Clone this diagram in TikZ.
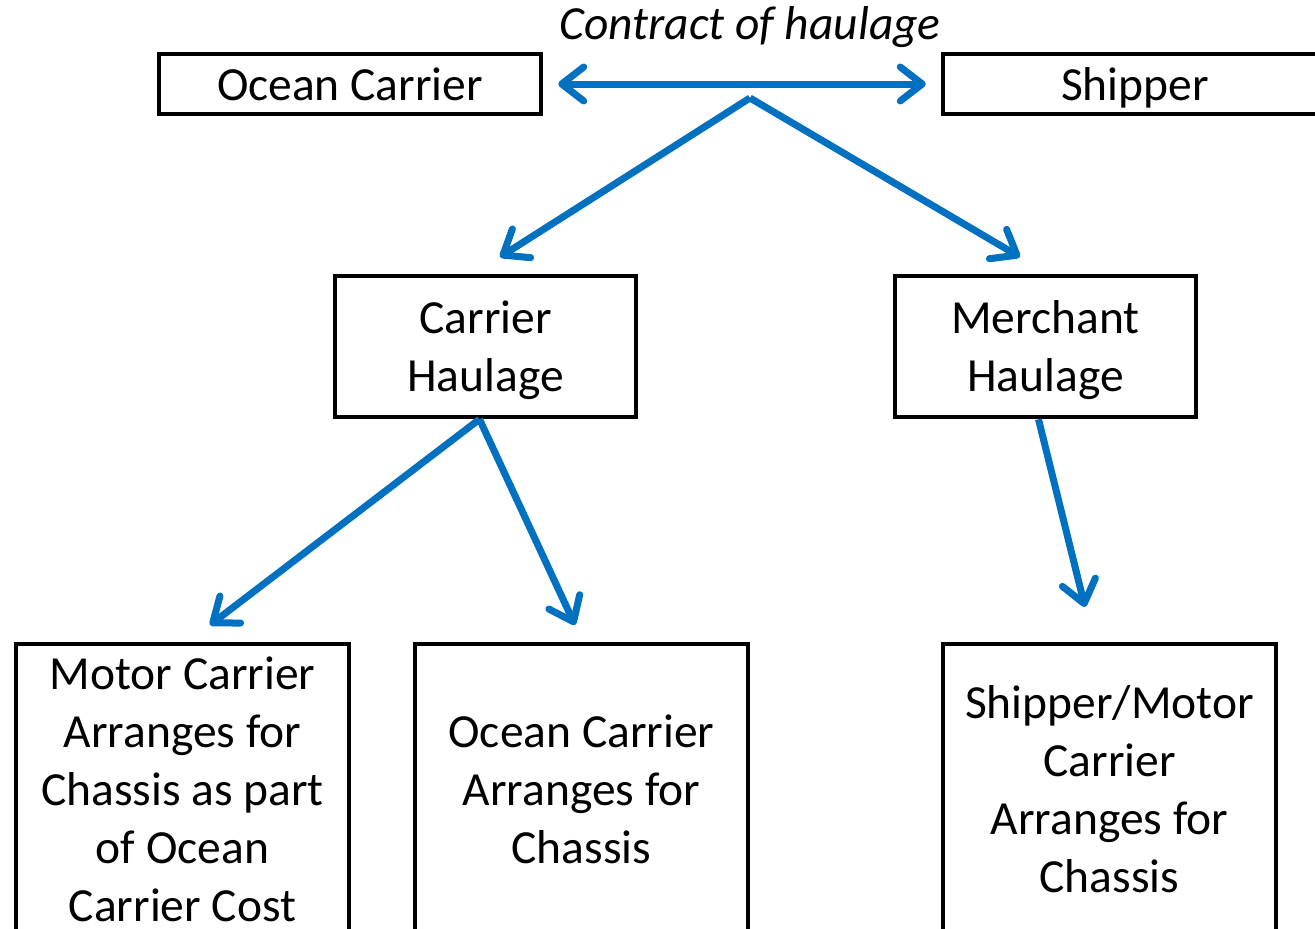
\documentclass[tikz,border=0pt]{standalone}
\usepackage{fontspec}
\setmainfont{Carlito}
\usetikzlibrary{arrows.meta}
\definecolor{flowblue}{RGB}{0,112,192}
\begin{document}
\begin{tikzpicture}[x=1pt,y=-1pt,
  every node/.style={font=\fontsize{47.5}{58}\selectfont},
  box/.style={draw,line width=4.5pt,align=center,inner sep=0pt,text depth=0pt},
  barb/.tip={Straight Barb[length=22pt,width=34pt,round]},
  flow/.style={draw=flowblue,line width=7pt,-barb}]
  \useasboundingbox (0,0) rectangle (1315,929);
  \clip (0,0) rectangle (1315,929);
  % top row, parties of the contract:
  \node[box,minimum width=382pt,minimum height=60pt] (ocean) at (350,84) {Ocean Carrier};
  \node[box,minimum width=384pt,minimum height=60pt] (shipper) at (1135,84) {Shipper};
  \node[font=\fontsize{47.5}{58}\selectfont\itshape] (contract) at (750,27) {Contract of haulage};
  \draw[flow,barb-barb,shorten <=15pt,shorten >=15pt] (ocean) -- (shipper);
  % haulage types:
  \node[box,minimum width=301pt,minimum height=141pt] (carrier) at (485.5,346.5) {Carrier\\Haulage};
  \node[box,minimum width=301pt,minimum height=141pt] (merchant) at (1045.5,346.5) {Merchant\\Haulage};
  \coordinate (fork) at (750,98);
  \coordinate (ch tip) at (500,257);
  \coordinate (mh tip) at (1020,257);
  \draw[flow] (fork) -- (ch tip);
  \draw[flow] (fork) -- (mh tip);
  % who arranges the chassis:
  \node[box,minimum width=333pt,minimum height=290pt] (motor) at (182.5,789) {Motor Carrier\\Arranges for\\Chassis as part\\of Ocean\\Carrier Cost};
  \node[box,minimum width=333pt,minimum height=290pt] (oceanarr) at (581.5,789) {Ocean Carrier\\Arranges for\\Chassis};
  \node[box,minimum width=333pt,minimum height=290pt] (shipmotor) at (1109.5,789) {Shipper/Motor\\Carrier\\Arranges for\\Chassis};
  \coordinate (mc tip) at (210,625);
  \coordinate (oc tip) at (575,625);
  \coordinate (sm tip) at (1085,607);
  \draw[flow] ([xshift=-6pt]carrier.south) -- (mc tip);
  \draw[flow] ([xshift=-6pt]carrier.south) -- (oc tip);
  \draw[flow] ([xshift=-7pt]merchant.south) -- (sm tip);
\end{tikzpicture}
\end{document}
